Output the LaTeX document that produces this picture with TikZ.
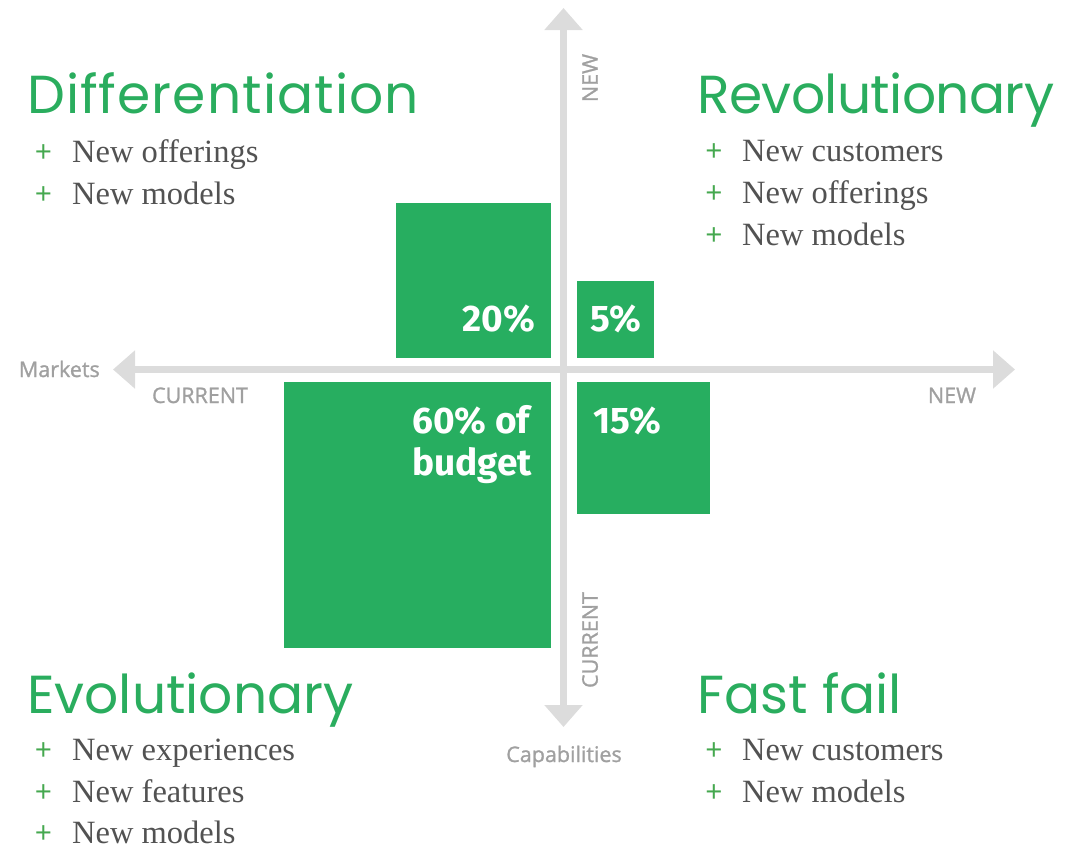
\documentclass[tikz,border=0pt]{standalone}
\usepackage{fontspec}
\setmainfont{Liberation Serif}
\newfontfamily\titlefont{Poppins}
\newfontfamily\labelfont{Open Sans}[FakeBold=1.2]
\newfontfamily\plusfont{Open Sans}
\newfontfamily\pctfont{Fira Sans}[UprightFont=* Bold]
\usetikzlibrary{arrows.meta}
\definecolor{boxgreen}{HTML}{27AE60}
\definecolor{titlegreen}{HTML}{2AAD5E}
\definecolor{plusgreen}{HTML}{45A84F}
\definecolor{axisgrey}{HTML}{DCDCDC}
\definecolor{labelgrey}{HTML}{A0A0A0}
\definecolor{textgrey}{HTML}{525252}
\tikzset{
  axisline/.style={draw=axisgrey, line width=7pt, {Triangle[width=37pt,length=22pt]}-{Triangle[width=37pt,length=22pt]}},
  pbox/.style={fill=boxgreen, draw=none},
  title/.style={inner sep=0pt, text=titlegreen, font=\titlefont\fontsize{53.5}{53.5}\selectfont},
  item/.style={inner sep=0pt, text=textgrey, font=\fontsize{32.5}{32.5}\selectfont},
  plus/.style={inner sep=0pt, text=plusgreen, font=\plusfont\fontsize{30}{30}\selectfont},
  axlabel/.style={inner sep=0pt, text=labelgrey, font=\labelfont\fontsize{21.5}{21.5}\selectfont},
  pct/.style={inner sep=0pt, text=white, font=\pctfont\fontsize{37}{37}\selectfont},
}
\begin{document}
\begin{tikzpicture}[x=1pt,y=-1pt]
\useasboundingbox (0,0) rectangle (1067,849);
% boxes
\path[pbox] (396,203) rectangle (551,358);
\path[pbox] (577,281) rectangle (654,358);
\path[pbox] (284,382) rectangle (551,648);
\path[pbox] (577,382) rectangle (710,514);
% axes
\coordinate (vtop) at (563.5,8);
\coordinate (vbot) at (563.5,727);
\coordinate (hleft) at (113,369.5);
\coordinate (hright) at (1015,369.5);
\draw[axisline] (vbot) -- (vtop);
\draw[axisline] (hleft) -- (hright);
% axis labels
\node[axlabel, anchor=base east] (markets) at (100,377) {Markets};
\node[axlabel, anchor=base] (hcur) at (200,403) {CURRENT};
\node[axlabel, anchor=base] (hnew) at (952,403) {NEW};
\node[axlabel, rotate=90] (vnew) at (590,78) {NEW};
\node[axlabel, rotate=90] (vcur) at (590,640) {CURRENT};
\node[axlabel, anchor=base] (cap) at (564,762) {Capabilities};
% percentages
\node[pct, anchor=base east] (p20) at (535,331) {20\%};
\node[pct, anchor=base west] (p5) at (590,331) {5\%};
\node[pct, anchor=base west] (p60a) at (412,433) {60\% of};
\node[pct, anchor=base west] (p60b) at (412,475) {budget};
\node[pct, anchor=base west] (p15) at (593,433) {15\%};
% titles
\node[title, anchor=base west] (tdiff) at (27,113) {\addfontfeature{LetterSpace=2}Differentiation};
\node[title, anchor=base west] (trev) at (697,113) {\addfontfeature{LetterSpace=-1.2}Revolutionary};
\node[title, anchor=base west] (tevo) at (27,713) {Evolutionary};
\node[title, anchor=base west] (tfast) at (697,713) {Fast fail};
% bullets
\foreach \y/\t [count=\i] in {162/New offerings,204/New models}{
  \node[plus, anchor=base] (dp\i) at (43.5,\y) {+};
  \node[item, anchor=base west] (di\i) at (72,\y) {\t};
}
\foreach \y/\t [count=\i] in {161/New customers,203/New offerings,245/New models}{
  \node[plus, anchor=base] (rp\i) at (714,\y) {+};
  \node[item, anchor=base west] (ri\i) at (742,\y) {\t};
}
\foreach \y/\t [count=\i] in {760/New experiences,802/New features,843/New models}{
  \node[plus, anchor=base] (ep\i) at (43.5,\y) {+};
  \node[item, anchor=base west] (ei\i) at (72,\y) {\t};
}
\foreach \y/\t [count=\i] in {760/New customers,802/New models}{
  \node[plus, anchor=base] (fp\i) at (714,\y) {+};
  \node[item, anchor=base west] (fi\i) at (742,\y) {\t};
}
\end{tikzpicture}
\end{document}
